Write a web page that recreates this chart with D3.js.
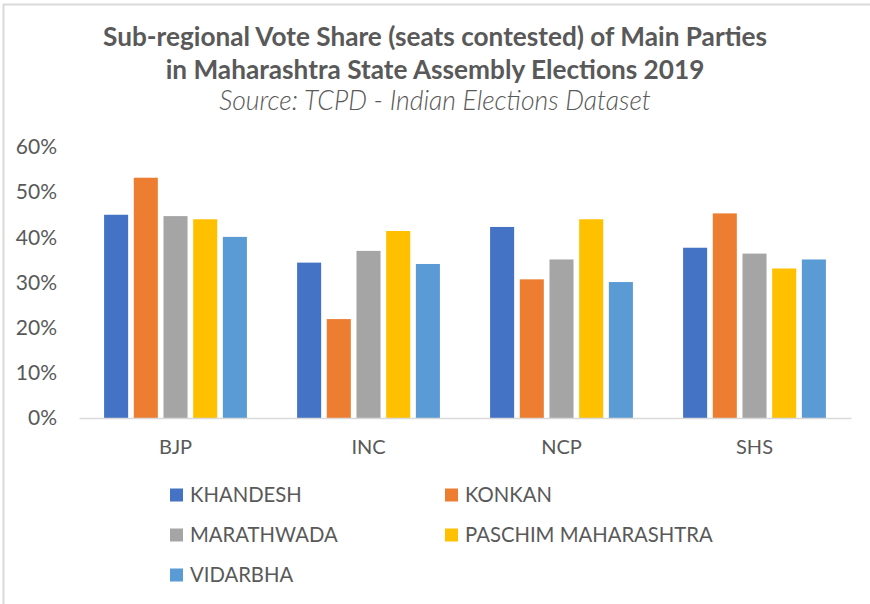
<!DOCTYPE html>
<html>
<head>
<meta charset="utf-8">
<script src="https://cdn.jsdelivr.net/npm/d3@7"></script>
<style>
  body { margin: 0; background: #fff; }
  svg { display: block; font-family: Lato, "Open Sans", sans-serif; }
</style>
</head>
<body>
<div id="chart"></div>
<script>
// values (share of votes, %)
const parties = ["BJP", "INC", "NCP", "SHS"];
const regions = ["KHANDESH", "KONKAN", "MARATHWADA", "PASCHIM MAHARASHTRA", "VIDARBHA"];
const khandesh = [45.0, 34.4, 42.3, 37.7];
const konkan = [53.2, 21.9, 30.7, 45.3];
const marathwada = [44.7, 37.0, 35.1, 36.4];
const paschim = [44.0, 41.4, 44.0, 33.1];
const vidarbha = [40.1, 34.1, 30.1, 35.1];
const yTicks = [0, 10, 20, 30, 40, 50, 60];
const colors = ["#4472c4", "#ed7d31", "#a5a5a5", "#ffc000", "#5b9bd5"];

const titleLines = [
  "Sub-regional Vote Share (seats contested) of Main Parties",
  "in Maharashtra State Assembly Elections 2019"
];
const sourceLine = "Source: TCPD - Indian Elections Dataset";

const seriesValues = [khandesh, konkan, marathwada, paschim, vidarbha];
const data = parties.map((p, i) => ({
  party: p,
  values: regions.map((r, j) => ({region: r, value: seriesValues[j][i], color: colors[j]}))
}));

const width = 870, height = 604;
const margin = {top: 147, right: 19, bottom: 186, left: 79};

const svg = d3.select("#chart")
  .append("svg")
  .attr("width", width)
  .attr("height", height);

// chart area border (only top and left visible in the crop)
svg.append("path")
  .attr("d", `M3.5,${height} L3.5,4.5 L${width},4.5`)
  .attr("fill", "none")
  .attr("stroke", "#d9d9d9")
  .attr("stroke-width", 2);

const x0 = d3.scaleBand()
  .domain(parties)
  .range([margin.left, width - margin.right])
  .padding(0);

const x1 = d3.scaleBand()
  .domain(regions)
  .range([x0.bandwidth() * 0.13, x0.bandwidth() * 0.87])
  .paddingInner(0.19)
  .paddingOuter(0);

const y = d3.scaleLinear()
  .domain([0, 60])
  .range([height - margin.bottom, margin.top]);

// title
const title = svg.append("g").attr("fill", "#595959").attr("text-anchor", "middle");
title.selectAll("text.t")
  .data(titleLines)
  .join("text")
  .attr("class", "t")
  .attr("x", width / 2)
  .attr("y", (d, i) => 46 + i * 32.6)
  .attr("font-size", 26.2)
  .attr("font-weight", "bold")
  .text(d => d);
title.append("text")
  .attr("x", width / 2)
  .attr("y", 110)
  .attr("font-size", 26.5)
  .attr("font-style", "italic")
  .attr("font-weight", 300)
  .text(sourceLine);

// y axis labels (no axis line, no gridlines)
const yAxis = svg.append("g")
  .attr("transform", `translate(${margin.left},0)`)
  .call(d3.axisLeft(y).tickValues(yTicks).tickFormat(d => d + "%").tickSize(0).tickPadding(22));
yAxis.select(".domain").remove();
yAxis.selectAll("text")
  .attr("fill", "#595959")
  .attr("font-size", 21)
  .attr("font-family", "Lato, sans-serif");

// bars
svg.append("g")
  .selectAll("g")
  .data(data)
  .join("g")
  .attr("transform", d => `translate(${x0(d.party)},0)`)
  .selectAll("rect")
  .data(d => d.values)
  .join("rect")
  .attr("x", d => x1(d.region))
  .attr("y", d => y(d.value))
  .attr("width", x1.bandwidth())
  .attr("height", d => y(0) - y(d.value))
  .attr("fill", d => d.color);

// x axis
const xAxis = svg.append("g")
  .attr("transform", `translate(0,${y(0)})`)
  .call(d3.axisBottom(x0).tickSize(0).tickPadding(22));
xAxis.select(".domain").attr("stroke", "#d9d9d9").attr("stroke-width", 1.5);
xAxis.selectAll("text")
  .attr("fill", "#595959")
  .attr("font-size", 20)
  .attr("font-family", "Lato, sans-serif");

// legend
const legendCols = [170, 445];
const legend = svg.append("g")
  .selectAll("g")
  .data(regions)
  .join("g")
  .attr("transform", (d, i) => `translate(${legendCols[i % 2]},${495 + Math.floor(i / 2) * 40})`);
legend.append("rect")
  .attr("x", 0)
  .attr("y", -6.5)
  .attr("width", 13)
  .attr("height", 13)
  .attr("fill", (d, i) => colors[i]);
legend.append("text")
  .attr("x", 20)
  .attr("dy", "0.35em")
  .attr("fill", "#595959")
  .attr("font-size", 20.3)
  .text(d => d);
</script>
</body>
</html>
